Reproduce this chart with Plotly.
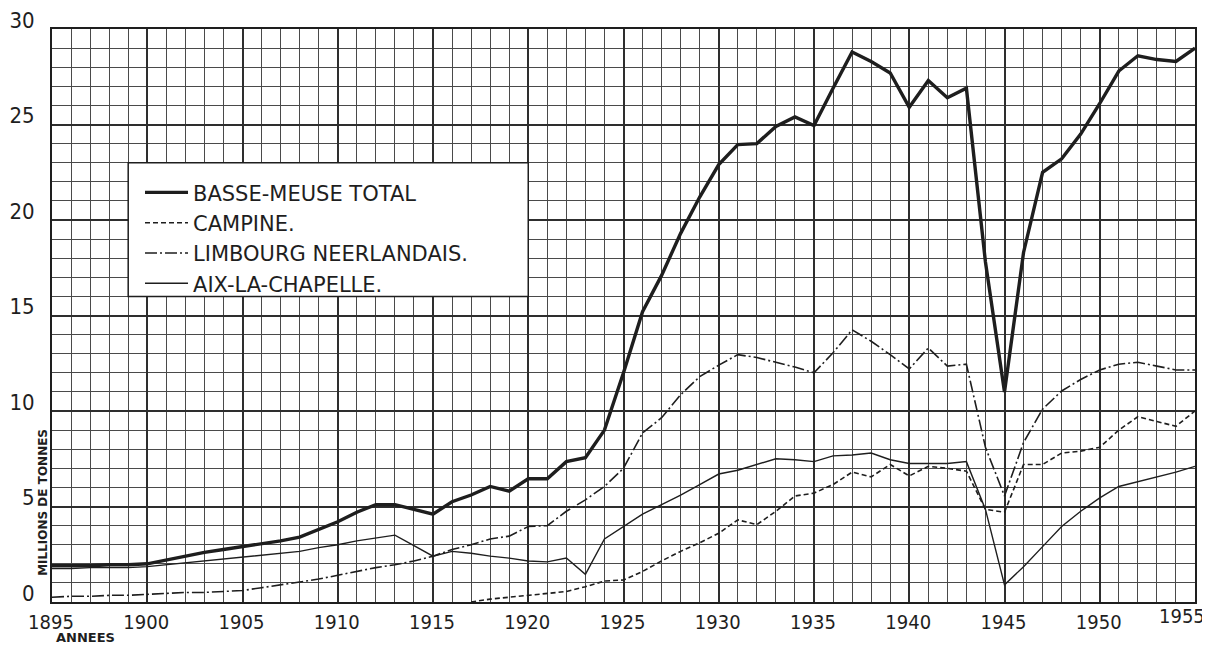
import plotly.graph_objects as go

years = list(range(1895, 1956))

total = [1.9, 1.9, 1.9, 1.95, 1.95, 2.0, 2.2, 2.4, 2.6, 2.75, 2.9, 3.05, 3.2, 3.4, 3.8,
         4.2, 4.7, 5.1, 5.1, 4.85, 4.6,
         5.25, 5.6, 6.05, 5.8, 6.45, 6.45, 7.35, 7.55, 9.0, 12.0, 15.2, 17.1, 19.3, 21.2,
         22.9, 23.95, 24.0, 24.9, 25.4, 24.95, 26.9, 28.8, 28.3, 27.7, 25.9, 27.3, 26.4,
         26.9, 17.8, 11.0, 18.3, 22.5, 23.2, 24.5, 26.1, 27.8, 28.6, 28.4, 28.3, 29.0]

campine = [None] * 22 + [0.0, 0.15, 0.25, 0.35, 0.45, 0.55, 0.8, 1.1, 1.15, 1.6, 2.15, 2.65,
           3.1, 3.6, 4.3, 4.05, 4.75, 5.55, 5.7, 6.15, 6.8, 6.55, 7.2, 6.6, 7.1, 7.0, 6.85,
           4.85, 4.7, 7.2, 7.2, 7.8, 7.9, 8.1, 9.0, 9.7, 9.45, 9.2, 10.0]

limbourg = [0.25, 0.3, 0.3, 0.35, 0.35, 0.4, 0.45, 0.5, 0.5, 0.55, 0.6, 0.75, 0.9, 1.05,
            1.2, 1.4, 1.6, 1.8, 1.95, 2.15, 2.4,
            2.75, 3.0, 3.3, 3.45, 3.95, 4.0, 4.75, 5.35, 6.05, 7.0, 8.85, 9.65, 10.85, 11.8,
            12.4, 12.95, 12.8, 12.55, 12.3, 12.0, 13.05, 14.25, 13.65, 12.95, 12.2, 13.3,
            12.35, 12.45, 8.1, 5.55, 8.35, 10.1, 11.05, 11.65, 12.15, 12.45, 12.55, 12.35,
            12.15, 12.15]

aix = [1.75, 1.75, 1.8, 1.8, 1.8, 1.85, 1.95, 2.05, 2.15, 2.25, 2.35, 2.45, 2.55, 2.65,
       2.85, 3.0, 3.2, 3.35, 3.5, 2.95, 2.4,
       2.65, 2.55, 2.4, 2.3, 2.15, 2.1, 2.3, 1.45, 3.3, 3.95, 4.6, 5.1, 5.6, 6.15, 6.7,
       6.9, 7.2, 7.5, 7.45, 7.35, 7.65, 7.7, 7.8, 7.45, 7.25, 7.25, 7.25, 7.35, 4.85,
       0.9, 1.85, 2.9, 3.95, 4.75, 5.45, 6.05, 6.3, 6.55, 6.8, 7.1]

names = ["BASSE-MEUSE TOTAL", "CAMPINE.", "LIMBOURG NEERLANDAIS.", "AIX-LA-CHAPELLE."]
x_ticks = list(range(1895, 1956, 5))
x_labels = [str(v) for v in x_ticks]
y_ticks = list(range(0, 31, 5))

ink = "#1e1e1e"
label_family = "Liberation Sans Narrow, DejaVu Sans Condensed, sans-serif"
x_font = dict(family=label_family, size=20, color=ink)

# last year label is drawn right-aligned at the frame so it stays inside the page
x_ticktext = x_labels[:-1] + [""]

fig = go.Figure()
fig.add_trace(go.Scatter(x=years, y=total, name=names[0], mode="lines",
                         line=dict(color=ink, width=3.4)))
fig.add_trace(go.Scatter(x=years, y=campine, name=names[1], mode="lines",
                         line=dict(color=ink, width=1.6, dash="5px,3px")))
fig.add_trace(go.Scatter(x=years, y=limbourg, name=names[2], mode="lines",
                         line=dict(color=ink, width=1.6, dash="12px,3px,2px,3px")))
fig.add_trace(go.Scatter(x=years, y=aix, name=names[3], mode="lines",
                         line=dict(color=ink, width=1.4)))

# white legend panel
fig.add_shape(type="rect", xref="x", yref="y", x0=1899, x1=1920, y0=16, y1=23,
              fillcolor="white", line=dict(color=ink, width=1.5), layer="above")

grid_major = "#2e2e2e"
grid_minor = "#4a4a4a"

# the page body has an 8px default margin, so the figure is offset by 8px
fig.update_layout(
    width=1202, height=637,
    margin=dict(l=44, r=15, t=21, b=43),
    paper_bgcolor="white", plot_bgcolor="white",
    showlegend=True,
    legend=dict(x=0.077, y=0.75, xanchor="left", yanchor="top",
                bgcolor="rgba(0,0,0,0)", borderwidth=0, itemwidth=43,
                font=dict(family="DejaVu Sans, sans-serif", size=21, color=ink),
                tracegroupgap=0),
    xaxis=dict(range=[1895, 1955], tickvals=x_ticks, ticktext=x_ticktext,
               showgrid=True, gridcolor=grid_major, gridwidth=1.8,
               minor=dict(dtick=1, tick0=1895, showgrid=True, gridcolor=grid_minor,
                          gridwidth=1.2),
               showline=True, mirror=True, linecolor=ink, linewidth=2,
               zeroline=False, ticks="", automargin=False, tickfont=x_font,
               ticklabeloverflow="allow", ticklabelstandoff=1, ticklabelshift=-1),
    yaxis=dict(range=[0, 30], tickvals=y_ticks, ticktext=[str(v) for v in y_ticks],
               showgrid=True, gridcolor=grid_major, gridwidth=1.8,
               minor=dict(dtick=1, tick0=0, showgrid=True, gridcolor=grid_minor,
                          gridwidth=1.2),
               showline=True, mirror=True, linecolor=ink, linewidth=2,
               zeroline=False, ticks="", automargin=False,
               tickfont=dict(family=label_family, size=22, color=ink),
               ticklabelposition="outside", ticklabelstandoff=11, ticklabelshift=-9,
               ticklabeloverflow="allow"),
    annotations=[
        dict(text=x_labels[-1], xref="x", yref="paper", x=x_ticks[-1], y=-0.0244,
             xanchor="right", yanchor="middle", xshift=12, showarrow=False,
             font=x_font),
        dict(text="<b>MILLIONS DE TONNES</b>", xref="paper", yref="paper",
             x=-0.008, y=0.1745, xanchor="center", yanchor="middle", textangle=-90,
             showarrow=False,
             font=dict(family="DejaVu Sans, sans-serif", size=12, color=ink)),
        dict(text="<b>ANNEES</b>", xref="paper", yref="paper",
             x=0.029, y=-0.062, xanchor="center", yanchor="middle", showarrow=False,
             font=dict(family="DejaVu Sans, sans-serif", size=13, color=ink)),
    ],
)

fig.write_html("out.html")
